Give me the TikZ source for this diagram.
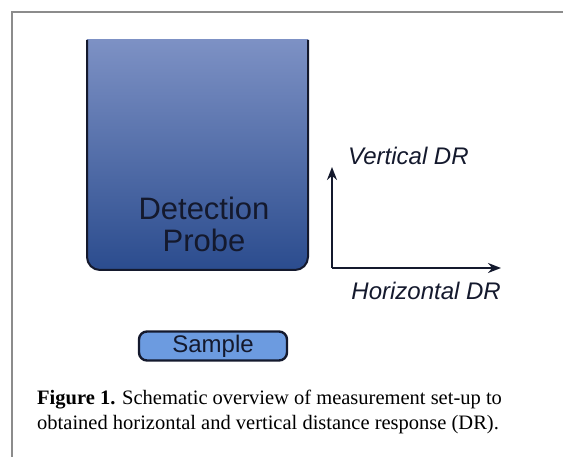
\documentclass[tikz,border=0pt]{standalone}
\usepackage{fontspec}
\setmainfont{Liberation Serif}
\setsansfont{Liberation Sans}
\usetikzlibrary{arrows.meta,positioning}
\definecolor{probeTop}{RGB}{132,151,201}
\definecolor{probeBot}{RGB}{43,76,142}
\definecolor{sampleFill}{RGB}{108,155,224}
\definecolor{frameGray}{RGB}{140,140,140}
\definecolor{inkBlue}{RGB}{20,25,45}
\tikzset{
  >={Stealth[length=13pt,width=10pt]},
  x=1pt,y=-1pt,
  label/.style={font=\sffamily\itshape\fontsize{24}{28}\selectfont,inner sep=0,text=inkBlue},
  axis/.style={draw,->,line width=2.8pt,inkBlue},
  sample/.style={draw=inkBlue,line width=2.4pt,fill=sampleFill,rounded corners=8pt,minimum width=148pt,minimum height=29pt,font=\sffamily\fontsize{24}{28}\selectfont,text=inkBlue},
}
\begin{document}
\begin{tikzpicture}
  \useasboundingbox (0,0) rectangle (563,457);
  % frame
  \draw[frameGray,line width=1.4pt] (12,457) -- (12,12) -- (563,12);
  % probe
  \coordinate (ptl) at (87,40);
  \coordinate (pbr) at (308,270);
  \begin{scope}
    \clip (87,40) rectangle (310,275);
    \shade[top color=probeTop,bottom color=probeBot,rounded corners=13pt] (87,20) rectangle (308,270);
  \end{scope}
  \draw[line width=2pt,inkBlue,rounded corners=13pt] (ptl) |- (pbr) -- (308,40);
  \node (probe) [font=\sffamily\fontsize{31}{32}\selectfont,align=center,text=inkBlue,inner sep=0] at (204,224) {Detection\\Probe};
  % axes
  \coordinate (o) at (332,268);
  \coordinate (vt) at (332,167);
  \coordinate (ht) at (501,268);
  \path [axis] (o) -- (vt);
  \path [axis] (o) -- (ht);
  \node (vdr) [label,anchor=west] at (348,156) {Vertical DR};
  \node (hdr) [label,anchor=north east] at (501,282) {Horizontal DR};
  % sample
  \node (smp) [sample] at (213,346) {Sample};
  % caption
  \node (cap) [anchor=north west,align=left,inner sep=0,font=\fontsize{20.5}{25}\selectfont] at (37,390)
    {\textbf{Figure 1.} Schematic overview of measurement set-up to\\
     obtained horizontal and vertical distance response (DR).};
\end{tikzpicture}
\end{document}
